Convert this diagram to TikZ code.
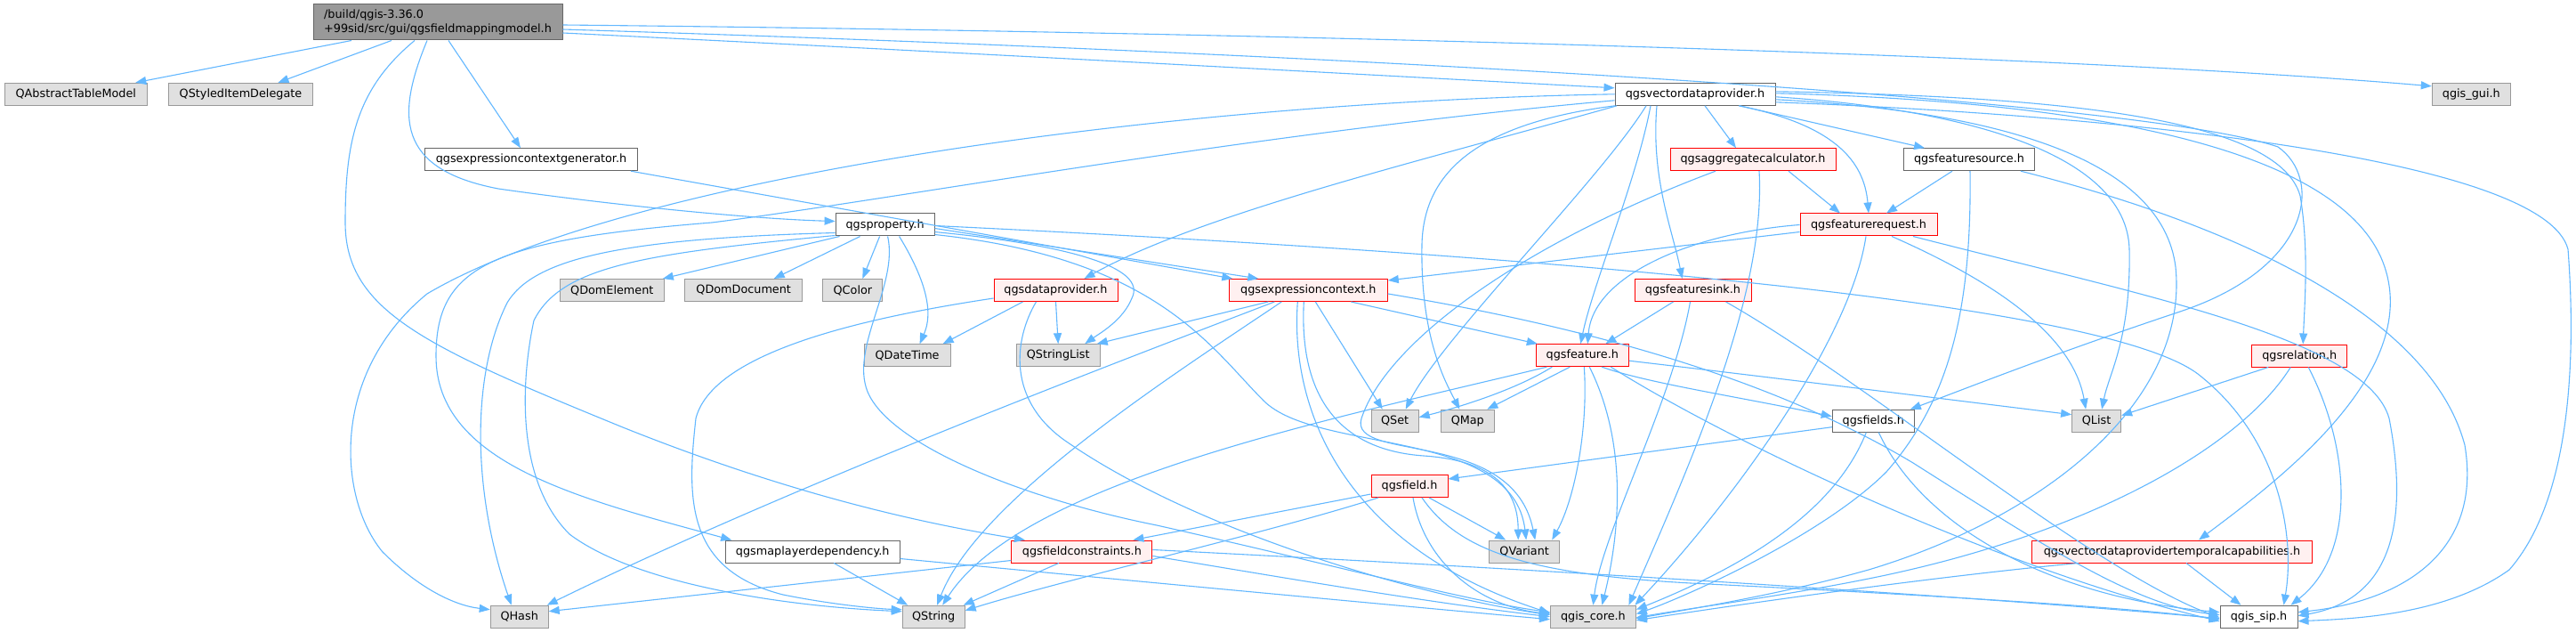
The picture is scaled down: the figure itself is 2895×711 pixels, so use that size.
\documentclass[tikz,border=0pt]{standalone}
\usepackage{fontspec}
\setmainfont{DejaVu Sans}
\usetikzlibrary{arrows.meta}
\definecolor{ecol}{HTML}{63B8FF}
\definecolor{gfill}{HTML}{E0E0E0}
\definecolor{gdraw}{HTML}{999999}
\definecolor{mfill}{HTML}{999999}
\definecolor{wdraw}{HTML}{666666}
\definecolor{rfill}{HTML}{FFF0F0}
\definecolor{rdraw}{HTML}{FF0000}
\tikzset{
  box/.style={draw, line width=1pt, minimum height=25pt, inner sep=0pt, anchor=center,
    font=\fontsize{12.8}{16.5}\selectfont},
  graybox/.style={box, fill=gfill, draw=gdraw},
  whitebox/.style={box, fill=white, draw=wdraw},
  redbox/.style={box, fill=rfill, draw=rdraw},
  mainbox/.style={box, fill=mfill, draw=wdraw, minimum height=40pt, align=left},
  edge/.style={draw=ecol, line width=1.1pt, -{Triangle[length=12pt,width=9pt]}, fill=none},
}
\begin{document}
\begin{tikzpicture}[x=1pt,y=-1pt]
\useasboundingbox (0,0) rectangle (2895,711);
\fill[white] (0,0) rectangle (2895,711);
% nodes
\node[mainbox, minimum width=280pt] (main) at (492,25) {/build/qgis-3.36.0\\+99sid/src/gui/qgsfieldmappingmodel.h};
\node[graybox, minimum width=160pt] (qatm) at (85.3,105.8) {QAbstractTableModel};
\node[graybox, minimum width=162pt] (qsid) at (270.5,105.8) {QStyledItemDelegate};
\node[whitebox, minimum width=239pt] (gen) at (597,179.2) {qgsexpressioncontextgenerator.h};
\node[whitebox, minimum width=180pt] (vdp) at (1905,105.8) {qgsvectordataprovider.h};
\node[graybox, minimum width=88pt] (gui) at (2777.3,105.8) {qgis\_gui.h};
\node[whitebox, minimum width=111pt] (prop) at (994.6,252.5) {qgsproperty.h};
\node[redbox, minimum width=186pt] (agg) at (1970,179.2) {qgsaggregatecalculator.h};
\node[whitebox, minimum width=147pt] (fsrc) at (2213,179.2) {qgsfeaturesource.h};
\node[redbox, minimum width=154pt] (freq) at (2100,252.5) {qgsfeaturerequest.h};
\node[graybox, minimum width=117pt] (domel) at (687.8,326) {QDomElement};
\node[graybox, minimum width=132pt] (domdoc) at (835.7,326) {QDomDocument};
\node[graybox, minimum width=67pt] (qcolor) at (958.4,326) {QColor};
\node[redbox, minimum width=139pt] (dprov) at (1186.5,326) {qgsdataprovider.h};
\node[redbox, minimum width=178pt] (ectx) at (1470.3,326) {qgsexpressioncontext.h};
\node[redbox, minimum width=131pt] (fsink) at (1902.5,326) {qgsfeaturesink.h};
\node[graybox, minimum width=97pt] (qdt) at (1019.6,399.2) {QDateTime};
\node[graybox, minimum width=94pt] (qsl) at (1189.2,399.2) {QStringList};
\node[redbox, minimum width=104pt] (feat) at (1778.3,399.2) {qgsfeature.h};
\node[redbox, minimum width=107pt] (rel) at (2584.2,399.5) {qgsrelation.h};
\node[graybox, minimum width=53pt] (qset) at (1567.7,472.7) {QSet};
\node[graybox, minimum width=60pt] (qmap) at (1649.3,472.7) {QMap};
\node[whitebox, minimum width=92pt] (fields) at (2105.3,472.7) {qgsfields.h};
\node[graybox, minimum width=55pt] (qlist) at (2356.1,472.7) {QList};
\node[redbox, minimum width=86pt] (field) at (1584,546) {qgsfield.h};
\node[whitebox, minimum width=196pt] (mld) at (913.2,619.5) {qgsmaplayerdependency.h};
\node[redbox, minimum width=158pt] (fcon) at (1215.9,619.5) {qgsfieldconstraints.h};
\node[graybox, minimum width=79pt] (qvar) at (1713.2,619.5) {QVariant};
\node[redbox, minimum width=315pt] (tcap) at (2441,619.5) {qgsvectordataprovidertemporalcapabilities.h};
\node[graybox, minimum width=65pt] (qhash) at (583.7,692.7) {QHash};
\node[graybox, minimum width=70pt] (qstr) at (1049.2,692.7) {QString};
\node[graybox, minimum width=96pt] (core) at (1790.4,692.7) {qgis\_core.h};
\node[whitebox, minimum width=87pt] (sip) at (2538.5,692.7) {qgis\_sip.h};
% main
\draw[edge] ([xshift=-97pt]main.south) -- ([xshift=67pt]qatm.north);
\draw[edge] ([xshift=-52pt]main.south) -- ([xshift=42pt]qsid.north);
\draw[edge] ([xshift=12pt]main.south) -- ([xshift=-12pt]gen.north);
\draw[edge] ([xshift=-12pt]main.south) .. controls (445,130) and (445,190) .. (560,212) .. controls (700,232) and (850,246) .. ([yshift=4pt]prop.west);
\draw[edge] ([xshift=-26pt]main.south) .. controls (400,100) and (388,160) .. (388,250) .. controls (388,350) and (480,390) .. (700,480) .. controls (900,560) and (1050,590) .. ([xshift=-64pt]fcon.north);
\draw[edge] ([yshift=-12pt]main.east) .. controls (1100,60) and (1500,82) .. ([yshift=7pt]vdp.west);
\draw[edge] ([yshift=-8pt]main.east) .. controls (1500,60) and (2400,110) .. (2560,165) .. controls (2610,200) and (2600,300) .. (2450,350) .. controls (2300,400) and (2200,440) .. ([xshift=-5pt]fields.north east);
\draw[edge] ([yshift=-3pt]main.east) .. controls (1400,36) and (2300,60) .. ([yshift=9pt]gui.west);
% generator
\draw[edge] ([xshift=-8pt]gen.south east) -- ([xshift=-85pt]ectx.north);
% property
\draw[edge] ([xshift=-51pt]prop.south) -- ([xshift=57pt]domel.north);
\draw[edge] ([xshift=-28pt]prop.south) -- ([xshift=34pt]domdoc.north);
\draw[edge] ([xshift=-6pt]prop.south) -- ([xshift=11pt]qcolor.north);
\draw[edge] ([xshift=16pt]prop.south) .. controls (1050,330) and (1045,360) .. ([xshift=14pt]qdt.north);
\draw[edge] ([yshift=-9pt]prop.west) .. controls (700,268) and (600,290) .. (570,340) .. controls (530,420) and (530,550) .. ([xshift=-9pt]qhash.north);
\draw[edge] ([yshift=-12pt]prop.west) .. controls (720,285) and (630,300) .. (600,360) .. controls (585,430) and (580,540) .. (640,600) .. controls (720,660) and (900,682) .. ([yshift=6pt]qstr.west);
\draw[edge] ([yshift=-4pt]prop.east) -- ([xshift=-56pt]ectx.north);
\draw[edge] ([yshift=-8pt]prop.east) .. controls (1200,275) and (1290,300) .. (1272,335) .. controls (1262,360) and (1235,375) .. ([xshift=30pt]qsl.north);
\draw[edge] ([yshift=-11pt]prop.east) .. controls (1300,290) and (1360,390) .. (1420,450) .. controls (1480,510) and (1700,480) .. ([xshift=2pt]qvar.north);
\draw[edge] ([xshift=3pt]prop.south) .. controls (1010,320) and (955,390) .. (975,440) .. controls (1000,500) and (1150,560) .. (1300,590) .. controls (1500,635) and (1650,675) .. ([yshift=5pt]core.west);
\draw[edge] ([yshift=-1pt]prop.east) .. controls (1600,280) and (2350,330) .. (2470,420) .. controls (2560,490) and (2580,600) .. ([xshift=28pt]sip.north);
% dataprovider
\draw[edge] ([xshift=-37pt]dprov.south) -- ([xshift=40pt]qdt.north);
\draw[edge] (dprov.south) -- (qsl.north);
\draw[edge] ([yshift=-9pt]dprov.west) .. controls (950,360) and (800,400) .. (782,470) .. controls (772,560) and (770,640) .. (880,668) .. controls (940,680) and (990,684) .. ([yshift=8pt]qstr.west);
\draw[edge] ([xshift=-22pt]dprov.south) .. controls (1140,380) and (1130,450) .. (1200,497) .. controls (1350,600) and (1600,670) .. ([yshift=2pt]core.west);
% expression context
\draw[edge] ([xshift=-45pt]ectx.south) -- ([xshift=-4pt]qsl.north east);
\draw[edge] ([xshift=-38pt]ectx.south) .. controls (1300,390) and (900,540) .. ([xshift=-2pt]qhash.north east);
\draw[edge] ([xshift=-30pt]ectx.south) .. controls (1320,420) and (1100,560) .. ([xshift=4pt]qstr.north);
\draw[edge] ([xshift=-12pt]ectx.south) .. controls (1450,450) and (1500,610) .. ([yshift=4pt]core.west);
\draw[edge] ([xshift=-5pt]ectx.south) .. controls (1460,440) and (1500,505) .. (1600,512) .. controls (1690,518) and (1706,560) .. ([xshift=-7pt]qvar.north);
\draw[edge] ([xshift=8pt]ectx.south) -- ([xshift=-14pt]qset.north);
\draw[edge] ([xshift=48pt]ectx.south) -- ([xshift=2pt]feat.north west);
\draw[edge] ([yshift=-4pt]ectx.east) .. controls (1800,370) and (2000,430) .. (2150,520) .. controls (2300,615) and (2400,680) .. ([yshift=2pt]sip.west);
% feature sink
\draw[edge] ([xshift=-22pt]fsink.south) -- ([xshift=26pt]feat.north);
\draw[edge] ([xshift=-3pt]fsink.south) .. controls (1880,450) and (1800,600) .. (core.north);
\draw[edge] ([xshift=37pt]fsink.south) .. controls (2100,430) and (2350,640) .. ([yshift=-1pt]sip.west);
% aggregate calculator
\draw[edge] ([xshift=40pt]agg.south) -- ([xshift=-32pt]freq.north);
\draw[edge] ([xshift=-42pt]agg.south) .. controls (1720,270) and (1560,380) .. (1530,470) .. controls (1515,520) and (1700,480) .. ([xshift=12pt]qvar.north);
\draw[edge] ([xshift=7pt]agg.south) .. controls (1985,330) and (1900,520) .. ([xshift=40pt]core.north);
% feature source
\draw[edge] ([xshift=-19pt]fsrc.south) -- ([xshift=20pt]freq.north);
\draw[edge] ([xshift=1pt]fsrc.south) .. controls (2216,350) and (2190,450) .. (2120,530) .. controls (2050,600) and (1900,668) .. ([yshift=3pt]core.east);
\draw[edge] ([xshift=58pt]fsrc.south) .. controls (2500,250) and (2730,350) .. (2770,500) .. controls (2790,620) and (2700,675) .. ([yshift=5pt]sip.east);
% feature request
\draw[edge] ([yshift=-8pt]freq.west) -- ([yshift=-2pt]ectx.north east);
\draw[edge] (freq.west) .. controls (1900,262) and (1790,310) .. ([xshift=6pt]feat.north);
\draw[edge] ([xshift=-3pt]freq.south) .. controls (2080,380) and (1950,560) .. ([xshift=47pt]core.north);
\draw[edge] ([xshift=26pt]freq.south) .. controls (2250,320) and (2330,380) .. ([xshift=-12pt]qlist.north);
\draw[edge] ([xshift=50pt]freq.south) .. controls (2400,330) and (2660,380) .. (2685,470) .. controls (2710,600) and (2680,675) .. ([yshift=1pt]sip.east);
% relation
\draw[edge] ([xshift=-35pt]rel.south) -- ([yshift=6pt]qlist.east);
\draw[edge] ([xshift=-10pt]rel.south) .. controls (2520,500) and (2350,600) .. (2100,650) .. controls (2000,670) and (1900,683) .. ([yshift=-1pt]core.east);
\draw[edge] ([xshift=10pt]rel.south) .. controls (2640,500) and (2650,620) .. ([xshift=36pt]sip.north);
% temporal capabilities
\draw[edge] ([xshift=-105pt]tcap.south) .. controls (2200,645) and (2000,672) .. ([yshift=-4pt]core.east);
\draw[edge] ([xshift=16pt]tcap.south) -- ([xshift=-20pt]sip.north);
% fields
\draw[edge] ([yshift=-7pt]fields.west) -- ([yshift=8pt]field.east);
\draw[edge] ([xshift=-8pt]fields.south) .. controls (2060,580) and (1950,640) .. ([yshift=8pt]core.east);
\draw[edge] ([xshift=6pt]fields.south) .. controls (2160,590) and (2300,670) .. ([yshift=5pt]sip.west);
% field
\draw[edge] ([yshift=-9pt]field.west) -- ([xshift=-22pt]fcon.north east);
\draw[edge] ([xshift=22pt]field.south) -- ([xshift=-21pt]qvar.north);
\draw[edge] ([xshift=-35pt]field.south) .. controls (1420,600) and (1200,650) .. ([yshift=7pt]qstr.east);
\draw[edge] ([xshift=4pt]field.south) .. controls (1600,630) and (1660,680) .. ([yshift=3pt]core.west);
\draw[edge] ([xshift=14pt]field.south) .. controls (1640,620) and (1720,645) .. (1900,655) .. controls (2200,670) and (2400,683) .. ([yshift=-3pt]sip.west);
% field constraints
\draw[edge] ([yshift=-10pt]fcon.west) -- ([yshift=6pt]qhash.east);
\draw[edge] ([xshift=-26pt]fcon.south) -- ([xshift=-2pt]qstr.north east);
\draw[edge] ([yshift=-5pt]fcon.east) .. controls (1450,650) and (1600,676) .. (core.west);
\draw[edge] ([yshift=2pt]fcon.east) .. controls (1700,638) and (2200,668) .. ([yshift=-2pt]sip.west);
% map layer dependency
\draw[edge] ([xshift=24pt]mld.south) -- ([xshift=-29pt]qstr.north);
\draw[edge] ([yshift=-8pt]mld.east) .. controls (1300,655) and (1600,683) .. ([yshift=-3pt]core.west);
% feature
\draw[edge] ([xshift=-34pt]feat.south) .. controls (1700,440) and (1630,460) .. ([yshift=4pt]qset.east);
\draw[edge] ([xshift=-14pt]feat.south) -- ([xshift=22pt]qmap.north);
\draw[edge] ([xshift=2pt]feat.south) .. controls (1785,480) and (1770,560) .. ([xshift=31pt]qvar.north);
\draw[edge] ([xshift=8pt]feat.south) .. controls (1830,500) and (1820,600) .. ([xshift=10pt]core.north);
\draw[edge] ([xshift=22pt]feat.south) .. controls (1850,430) and (1950,445) .. ([yshift=5pt]fields.west);
\draw[edge] ([yshift=-6pt]feat.east) .. controls (2000,425) and (2200,450) .. ([yshift=7pt]qlist.west);
\draw[edge] ([xshift=32pt]feat.south) .. controls (1950,500) and (2250,640) .. ([yshift=-5pt]sip.west);
\draw[edge] ([xshift=-40pt]feat.south) .. controls (1500,470) and (1150,540) .. ([xshift=10pt]qstr.north);
% vector data provider
\draw[edge] (vdp.west) .. controls (1300,115) and (700,200) .. (480,330) .. controls (370,420) and (380,560) .. (430,620) .. controls (470,660) and (510,680) .. ([yshift=8pt]qhash.west);
\draw[edge] ([yshift=-7pt]vdp.west) .. controls (1400,150) and (1000,225) .. (800,250) .. controls (550,270) and (490,300) .. (490,400) .. controls (490,520) and (650,560) .. ([xshift=-91pt]mld.north);
\draw[edge] ([xshift=-88pt]vdp.south) .. controls (1600,180) and (1350,240) .. ([xshift=32pt]dprov.north);
\draw[edge] ([xshift=-90pt]vdp.south) .. controls (1650,140) and (1600,200) .. (1598,274) .. controls (1596,380) and (1625,430) .. ([xshift=-9pt]qmap.north);
\draw[edge] ([xshift=-55pt]vdp.south) .. controls (1800,200) and (1620,380) .. ([xshift=12pt]qset.north);
\draw[edge] ([xshift=-50pt]vdp.south) .. controls (1840,200) and (1790,320) .. ([xshift=-2pt]feat.north);
\draw[edge] ([xshift=11pt]vdp.south) -- ([xshift=-19pt]agg.north);
\draw[edge] ([xshift=-43pt]vdp.south) .. controls (1855,200) and (1880,260) .. ([xshift=-12pt]fsink.north);
\draw[edge] ([xshift=49pt]vdp.south) .. controls (2060,140) and (2095,180) .. (freq.north);
\draw[edge] ([xshift=50pt]vdp.south) -- ([xshift=-50pt]fsrc.north);
\draw[edge] ([yshift=-6pt]vdp.east) .. controls (2250,125) and (2430,180) .. (2445,300) .. controls (2460,450) and (2300,580) .. (2100,640) .. controls (2000,668) and (1900,684) .. ([yshift=-2pt]core.east);
\draw[edge] ([yshift=-3pt]vdp.east) .. controls (2200,122) and (2390,170) .. (2393,280) .. controls (2395,380) and (2370,420) .. ([xshift=6pt]qlist.north);
\draw[edge] ([yshift=3pt]vdp.east) .. controls (2300,108) and (2560,130) .. (2585,220) .. controls (2595,280) and (2590,340) .. ([xshift=4pt]rel.north);
\draw[edge] ([yshift=1pt]vdp.east) .. controls (2400,115) and (2640,180) .. (2680,300) .. controls (2720,420) and (2560,540) .. ([xshift=30pt]tcap.north);
\draw[edge] ([yshift=-9pt]vdp.east) .. controls (2400,130) and (2860,180) .. (2886,280) .. controls (2895,400) and (2890,560) .. (2820,640) .. controls (2750,690) and (2650,695) .. ([yshift=-5pt]sip.east);
\end{tikzpicture}
\end{document}
